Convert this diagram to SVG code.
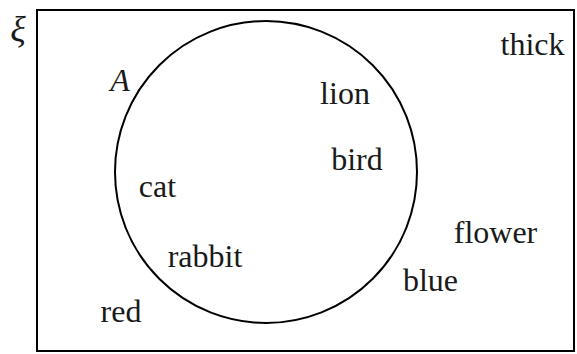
<svg xmlns="http://www.w3.org/2000/svg" width="577" height="354" viewBox="0 0 577 354">
<style>
.frame{fill:none;stroke:#000;stroke-width:2}
.set{fill:none;stroke:#000;stroke-width:2}
text{font-size:32px;fill:#1a1a1a;text-anchor:middle}
.it{font-style:italic}
</style>
<rect id="universe" class="frame" x="37" y="10" width="537" height="341"/>
<text id="xi" class="it" x="18" y="41" style="font-size:36px" font-family="Liberation Serif, serif">ξ</text>
<g id="setA">
<circle class="set" cx="266" cy="172" r="151"/>
<text class="it" x="120" y="91" font-family="Liberation Serif, serif">A</text>
</g>
<g id="items">
<text x="532.5" y="55" font-family="Liberation Serif, serif">thick</text>
<text x="345" y="104" font-family="Liberation Serif, serif">lion</text>
<text x="357" y="170" font-family="Liberation Serif, serif">bird</text>
<text x="157.5" y="197" font-family="Liberation Serif, serif">cat</text>
<text x="205" y="267" font-family="Liberation Serif, serif">rabbit</text>
<text x="495.5" y="243" font-family="Liberation Serif, serif">flower</text>
<text x="430.5" y="291" font-family="Liberation Serif, serif">blue</text>
<text x="121" y="322" font-family="Liberation Serif, serif">red</text>
</g>
</svg>
